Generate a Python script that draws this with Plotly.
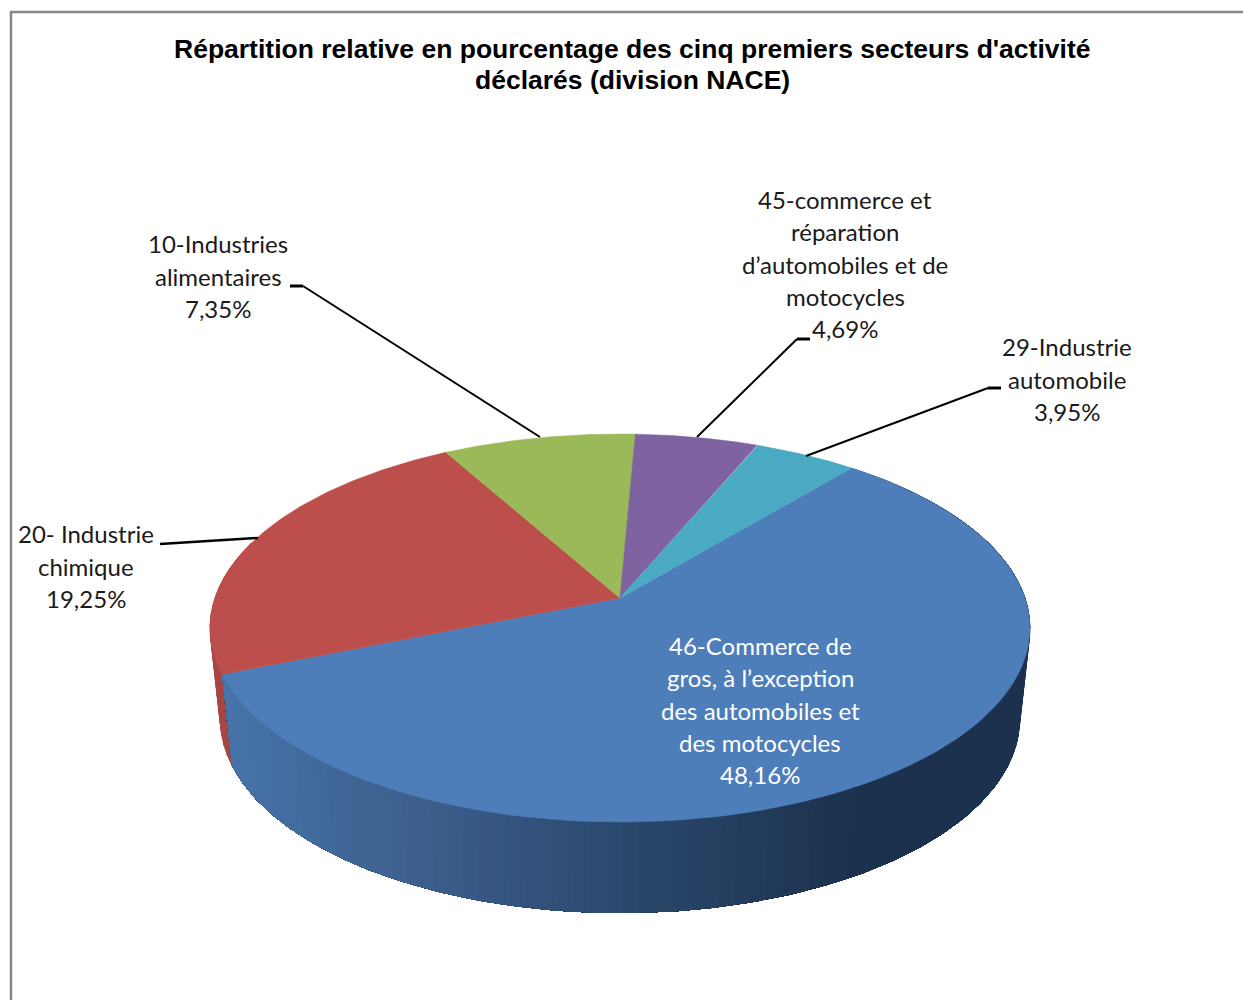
import numpy as np
import plotly.graph_objects as go

# Data
sectors = [
    ["46-Commerce de", "gros, à l’exception", "des automobiles et", "des motocycles"],
    ["20- Industrie", "chimique"],
    ["10-Industries", "alimentaires"],
    ["45-commerce et", "réparation", "d’automobiles et de", "motocycles"],
    ["29-Industrie", "automobile"],
]
values = [48.16, 19.25, 7.35, 4.69, 3.95]
top_colors = ["#4E7EBA", "#BC4F4C", "#9BB958", "#7F63A0", "#4AA9C3"]
side_red = "#A84543"
title_lines = ["Répartition relative en pourcentage des cinq premiers secteurs d'activité",
               "déclarés (division NACE)"]
label_colors = ["white", "#1a1a1a", "#1a1a1a", "#1a1a1a", "#1a1a1a"]
label_centers = [(760, 710), (86, 566), (218, 276), (845, 264), (1067, 379)]
leaders = [
    None,
    [(160, 544), (258, 538)],
    [(290, 286), (303, 286), (540, 437)],
    [(810, 339), (797, 339), (697, 437)],
    [(1001, 388), (988, 388), (806, 456)],
]

# Projection of the tilted disc (simple perspective)
CX, CY = 620.0, 598.0
A, B, K = 405.0, 189.4, 0.1547
START = 39.8
DEPTH_Y, BOTTOM_SCALE_X = 91.0, 0.975
LABEL_SIZE, LINE_STEP = 24, 32.2
TITLE_SIZE = 26.5


def project(theta_deg, scale_x=1.0, dy=0.0):
    t = np.radians(np.asarray(theta_deg, dtype=float))
    s, c = np.cos(t), np.sin(t)
    d = 1 + K * s
    return CX + scale_x * A * c / d, CY + dy - B * s / d


def lerp_color(x):
    stops_x = [225, 420, 620, 860, 1030]
    r = np.interp(x, stops_x, [0x46, 0x3C, 0x2B, 0x1C, 0x1C])
    g = np.interp(x, stops_x, [0x73, 0x5E, 0x49, 0x31, 0x31])
    b = np.interp(x, stops_x, [0xA8, 0x8C, 0x6E, 0x4D, 0x4D])
    return f"rgb({r:.0f},{g:.0f},{b:.0f})"


total = sum(values)
edges = START + np.concatenate([[0], np.cumsum(values)]) / total * 360

fig = go.Figure()


def add_poly(xs, ys, color, name=None, outline=0.0):
    fig.add_trace(go.Scatter(
        x=xs, y=ys, mode="lines", fill="toself", fillcolor=color,
        line=dict(color=color, width=outline), showlegend=False,
        hoverinfo="skip" if name is None else "text", text=name,
    ))


def wall_polygon(th0, th1):
    t = np.linspace(th0, th1, max(2, int(th1 - th0)) + 1)
    xa, ya = project(t)
    xb, yb = project(t[::-1], BOTTOM_SCALE_X, DEPTH_Y)
    return list(xa) + list(xb) + [xa[0]], list(ya) + list(yb) + [ya[0]]


def wall_quads(th0, th1, color):
    t = np.linspace(th0, th1, int((th1 - th0) / 3) + 2)
    for a, b in zip(t[:-1], t[1:]):
        xs, ys = wall_polygon(a, b)
        add_poly(xs, ys, color, outline=1)


# Side wall: red sliver behind, and the dark end of the shaded wall on the right
wall_quads(edges[1], edges[1] + 40, side_red)
wall_quads(edges[0] + 30, edges[0] + 90, lerp_color(1030))

# Shaded blue wall: painted so that each band also covers all the bands still to come
bands = np.arange(edges[1] - 2, edges[0], -2.0)
for th in np.concatenate([[edges[0]], bands[::-1]]):
    xs, ys = wall_polygon(th, edges[1])
    mid_x, _ = project(th + 1)
    add_poly(xs, ys, lerp_color(float(mid_x)))

# Top face
for i, v in enumerate(values):
    th = np.linspace(edges[i], edges[i + 1], 120)
    ax, ay = project(th)
    add_poly([CX] + list(ax) + [CX], [CY] + list(ay) + [CY], top_colors[i],
             f"{' '.join(sectors[i])} {v:.2f}%".replace(".", ","), outline=0.5)

# Leader lines: a short heavier stub, then the thinner run to the slice
for pts in leaders:
    if not pts:
        continue
    if len(pts) == 2:
        segs = [(pts, 2.5)]
    else:
        segs = [(pts[:2], 3), (pts[1:], 2)]
    for seg, w in segs:
        fig.add_trace(go.Scatter(x=[p[0] for p in seg], y=[p[1] for p in seg], mode="lines",
                                 line=dict(color="black", width=w), showlegend=False, hoverinfo="skip"))

# Labels
annotations = []
for i, (lines, v) in enumerate(zip(sectors, values)):
    all_lines = lines + [f"{v:.2f}%".replace(".", ",")]
    cx, cy = label_centers[i]
    for j, line in enumerate(all_lines):
        annotations.append(dict(
            x=cx, y=cy + (j - (len(all_lines) - 1) / 2) * LINE_STEP, xref="x", yref="y",
            text=line, showarrow=False, xanchor="center", yanchor="middle",
            font=dict(family="Lato", size=LABEL_SIZE, color=label_colors[i]),
        ))
for j, line in enumerate(title_lines):
    annotations.append(dict(
        x=632, y=49 + j * 31, xref="x", yref="y", text=f"<b>{line}</b>", showarrow=False,
        xanchor="center", yanchor="middle",
        font=dict(family="Liberation Sans", size=TITLE_SIZE, color="black"),
    ))

fig.update_layout(
    width=1243, height=1000, margin=dict(l=0, r=0, t=0, b=0),
    paper_bgcolor="white", plot_bgcolor="white", showlegend=False,
    xaxis=dict(range=[0, 1243], visible=False, fixedrange=True),
    yaxis=dict(range=[1000, 0], visible=False, fixedrange=True),
    annotations=annotations,
    shapes=[dict(type="rect", xref="x", yref="y", x0=11, y0=12, x1=1270, y1=1030,
                 line=dict(color="#878787", width=2.5), fillcolor="rgba(0,0,0,0)", layer="below")],
)
fig.write_html("out.html", config=dict(displayModeBar=False),
               post_script="document.body.style.margin='0';")
